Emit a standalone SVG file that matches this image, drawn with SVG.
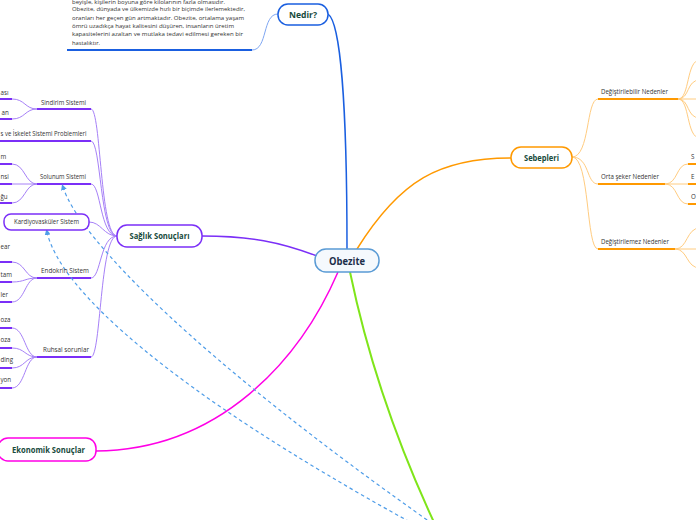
<svg xmlns="http://www.w3.org/2000/svg" width="696" height="520" viewBox="0 0 696 520">
<defs>
<style>
.bg{fill:#ffffff}
.node{stroke-width:1.5;fill:#ffffff}
.nt{font-family:"Open Sans","Noto Sans",sans-serif;font-weight:bold;fill:#174a3c;text-anchor:middle}
.lb{font-family:"Open Sans","Noto Sans",sans-serif;font-size:6.2px;fill:#333333}
.par{font-family:"Open Sans","Noto Sans",sans-serif;font-size:5.9px;fill:#333333}
.pu{stroke:#7b2ff7;stroke-width:2;fill:none}
.pl{stroke:#a680f7;stroke-width:1;fill:none}
.ou{stroke:#ff9900;stroke-width:2;fill:none}
.ol{stroke:#ffcc80;stroke-width:1;fill:none}
.rel{stroke:#4f9de8;stroke-width:1.2;fill:none;stroke-dasharray:3.5 3}
</style>
<marker id="arr" viewBox="0 0 10 10" refX="5" refY="5" markerWidth="5" markerHeight="5" orient="auto-start-reverse">
<path d="M0,0 L10,5 L0,10 z" fill="#4f9de8"/>
</marker>
</defs>
<rect class="bg" x="0" y="0" width="696" height="520"/>

<g id="connectors">
<path d="M328,14 C340,22 347,100 347,249" stroke="#1a5fe0" stroke-width="1.5" fill="none"/>
<path d="M357,249 C400,180 440,158 511,158" stroke="#ff9900" stroke-width="1.5" fill="none"/>
<path d="M202,236 C250,236 280,242 317,256" stroke="#7b2ff7" stroke-width="1.5" fill="none"/>
<path d="M338,272 C300,360 220,450 96,451" stroke="#ff00e6" stroke-width="1.5" fill="none"/>
<path d="M350,272 C362,330 385,420 440,535" stroke="#7fe51a" stroke-width="2" fill="none"/>
<line x1="67" y1="50" x2="252" y2="50" stroke="#1a5fe0" stroke-width="2"/>
<path d="M252,50 C268,50 262,14 278,14" stroke="#7ea6f2" stroke-width="1" fill="none"/>
<path class="pl" d="M91,109 C101,109 100,236 117,236"/>
<path class="pl" d="M91,141 C101,141 100,236 117,236"/>
<path class="pl" d="M91,184 C101,184 100,236 117,236"/>
<path class="pl" d="M89,222 C101,222 104,236 117,236"/>
<path class="pl" d="M91,278 C101,278 100,236 117,236"/>
<path class="pl" d="M91,357 C101,357 100,236 117,236"/>
<line class="pu" x1="37" y1="109" x2="91" y2="109"/>
<line class="pu" x1="0" y1="141" x2="91" y2="141"/>
<line class="pu" x1="37" y1="184" x2="91" y2="184"/>
<line class="pu" x1="37" y1="278" x2="91" y2="278"/>
<line class="pu" x1="37" y1="357" x2="91" y2="357"/>
<path class="pl" d="M37,109 C25,109 25,99 12,99"/>
<path class="pl" d="M37,109 C25,109 25,119 12,119"/>
<line class="pu" x1="0" y1="99" x2="12" y2="99"/>
<line class="pu" x1="0" y1="119" x2="12" y2="119"/>
<path class="pl" d="M37,184 C25,184 25,164 12,164"/>
<path class="pl" d="M37,184 L12,184"/>
<path class="pl" d="M37,184 C25,184 25,203 12,203"/>
<line class="pu" x1="0" y1="164" x2="12" y2="164"/>
<line class="pu" x1="0" y1="184" x2="12" y2="184"/>
<line class="pu" x1="0" y1="203" x2="12" y2="203"/>
<path class="pl" d="M37,278 C25,278 25,262 12,262"/>
<path class="pl" d="M37,278 C25,278 25,282 12,282"/>
<path class="pl" d="M37,278 C25,278 25,302 12,302"/>
<line class="pu" x1="0" y1="262" x2="12" y2="262"/>
<line class="pu" x1="0" y1="282" x2="12" y2="282"/>
<line class="pu" x1="0" y1="302" x2="12" y2="302"/>
<path class="pl" d="M37,357 C25,357 25,328 12,328"/>
<path class="pl" d="M37,357 C25,357 25,348 12,348"/>
<path class="pl" d="M37,357 C25,357 25,368 12,368"/>
<path class="pl" d="M37,357 C25,357 25,388 12,388"/>
<line class="pu" x1="0" y1="328" x2="12" y2="328"/>
<line class="pu" x1="0" y1="348" x2="12" y2="348"/>
<line class="pu" x1="0" y1="368" x2="12" y2="368"/>
<line class="pu" x1="0" y1="388" x2="12" y2="388"/>
<path class="ol" d="M572,157 C590,157 586,99 598,99"/>
<path class="ol" d="M572,157 C590,157 586,184 598,184"/>
<path class="ol" d="M572,157 C590,157 586,249 598,249"/>
<line class="ou" x1="598" y1="99" x2="678" y2="99"/>
<line class="ou" x1="598" y1="184" x2="665" y2="184"/>
<line class="ou" x1="598" y1="249" x2="675" y2="249"/>
<path class="ol" d="M678,99 C690,99 686,60 700,60"/>
<path class="ol" d="M678,99 C690,99 686,80 700,80"/>
<path class="ol" d="M678,99 L700,99"/>
<path class="ol" d="M678,99 C690,99 686,118 700,118"/>
<path class="ol" d="M678,99 C690,99 686,138 700,138"/>
<path class="ol" d="M665,184 C678,184 676,164 688,164"/>
<path class="ol" d="M665,184 L688,184"/>
<path class="ol" d="M665,184 C678,184 676,204 688,204"/>
<line class="ou" x1="688" y1="164" x2="700" y2="164"/>
<line class="ou" x1="688" y1="184" x2="700" y2="184"/>
<line class="ou" x1="688" y1="204" x2="700" y2="204"/>
<path class="ol" d="M675,249 C688,249 686,228 700,228"/>
<path class="ol" d="M675,249 L700,249"/>
<path class="ol" d="M675,249 C688,249 686,268 700,268"/>
<path class="rel" d="M63,187 C80,240 200,360 430,522" marker-start="url(#arr)"/>
<path class="rel" d="M47,232 C60,290 170,390 410,522" marker-start="url(#arr)"/>
</g>

<g id="nedir-text">
<text class="par" x="72" y="3.5" textLength="153" lengthAdjust="spacingAndGlyphs">beyişle, kişilerin boyuna göre kilolarının fazla olmasıdır.</text>
<text class="par" x="72" y="11" textLength="173" lengthAdjust="spacingAndGlyphs">Obezite, dünyada ve ülkemizde hızlı bir biçimde ilerlemektedir,</text>
<text class="par" x="72" y="19.5" textLength="172" lengthAdjust="spacingAndGlyphs">oranları her geçen gün artmaktadır. Obezite, ortalama yaşam</text>
<text class="par" x="72" y="27.8" textLength="162" lengthAdjust="spacingAndGlyphs">ömrü uzadıkça hayat kalitesini düşüren, insanların üretim</text>
<text class="par" x="72" y="36.2" textLength="171" lengthAdjust="spacingAndGlyphs">kapasitelerini azaltan ve mutlaka tedavi edilmesi gereken bir</text>
<text class="par" x="72" y="44.5" textLength="28" lengthAdjust="spacingAndGlyphs">hastalıktır.</text>
</g>

<g id="obezite">
<rect x="315" y="249" width="64" height="23" rx="11" fill="#f5f9fd" stroke="#5a9bd5" stroke-width="1.5"/>
<text class="nt" x="347" y="264.5" font-size="10.5" style="fill:#1c2e4a" textLength="36" lengthAdjust="spacingAndGlyphs">Obezite</text>
</g>
<g id="nedir">
<rect class="node" x="278" y="4" width="50" height="21" rx="10" stroke="#1a5fe0"/>
<text class="nt" x="303" y="17.5" font-size="9.5" textLength="28" lengthAdjust="spacingAndGlyphs">Nedir?</text>
</g>
<g id="sebepleri">
<rect class="node" x="511" y="147" width="61" height="21" rx="10" stroke="#ff9900"/>
<text class="nt" x="541.5" y="160.5" font-size="9.5" textLength="35" lengthAdjust="spacingAndGlyphs">Sebepleri</text>
</g>
<g id="saglik">
<rect class="node" x="117" y="225" width="85" height="22" rx="10" stroke="#7b2ff7"/>
<text class="nt" x="159.5" y="239" font-size="9.5" textLength="60" lengthAdjust="spacingAndGlyphs">Sağlık Sonuçları</text>
</g>
<g id="ekonomik">
<rect class="node" x="-2" y="438" width="98" height="23" rx="10" stroke="#ff00e6"/>
<text class="nt" x="48.5" y="452.5" font-size="9.5" textLength="73" lengthAdjust="spacingAndGlyphs">Ekonomik Sonuçlar</text>
</g>
<g id="kardiyo">
<rect class="node" x="4" y="214" width="85" height="16" rx="7" stroke="#7b2ff7" stroke-width="1.2"/>
<text class="lb" x="46.5" y="224.3" text-anchor="middle" textLength="65" lengthAdjust="spacingAndGlyphs">Kardiyovasküler Sistem</text>
</g>

<g id="saglik-labels">
<text class="lb" x="41" y="105" textLength="45" lengthAdjust="spacingAndGlyphs">Sindirim Sistemi</text>
<text class="lb" x="0.5" y="94.5">ası</text>
<text class="lb" x="1.5" y="115">an</text>
<text class="lb" x="0.5" y="135.5" textLength="86" lengthAdjust="spacingAndGlyphs">s ve İskelet Sistemi Problemleri</text>
<text class="lb" x="40" y="179" textLength="46" lengthAdjust="spacingAndGlyphs">Solunum Sistemi</text>
<text class="lb" x="0.5" y="159">m</text>
<text class="lb" x="0.5" y="179">nsi</text>
<text class="lb" x="0.5" y="199">ğu</text>
<text class="lb" x="41" y="273" textLength="48" lengthAdjust="spacingAndGlyphs">Endokrin Sistem</text>
<text class="lb" x="0.5" y="249">ear</text>
<text class="lb" x="0.5" y="276.5">tam</text>
<text class="lb" x="0.5" y="296.5">ler</text>
<text class="lb" x="43" y="352" textLength="46" lengthAdjust="spacingAndGlyphs">Ruhsal sorunlar</text>
<text class="lb" x="0.5" y="322">oza</text>
<text class="lb" x="0.5" y="342">oza</text>
<text class="lb" x="0.5" y="361.5">ding</text>
<text class="lb" x="0.5" y="382">yon</text>
</g>

<g id="sebep-labels">
<text class="lb" x="601" y="94" textLength="67" lengthAdjust="spacingAndGlyphs">Değiştirilebilir Nedenler</text>
<text class="lb" x="601" y="179" textLength="58" lengthAdjust="spacingAndGlyphs">Orta şeker Nedenler</text>
<text class="lb" x="601" y="244" textLength="68" lengthAdjust="spacingAndGlyphs">Değiştirilemez Nedenler</text>
<text class="lb" x="691" y="159">S</text>
<text class="lb" x="691" y="179">E</text>
<text class="lb" x="691" y="199">O</text>
</g>
</svg>
